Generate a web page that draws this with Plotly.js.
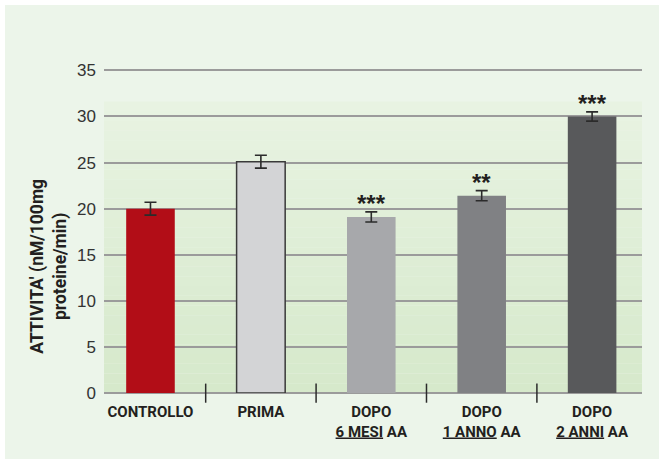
<!DOCTYPE html>
<html>
<head>
<meta charset="utf-8">
<script src="https://cdn.plot.ly/plotly-3.0.1.min.js"></script>
<style>
  html, body { margin: 0; padding: 0; background: #ffffff; }
  #chart { position: absolute; left: 5px; top: 5px; width: 654px; height: 454px; }
</style>
</head>
<body>
<div id="chart"></div>
<script>
// ---- data ----
const categories = ['CONTROLLO', 'PRIMA', 'DOPO<br><u>6 MESI</u> AA', 'DOPO<br><u>1 ANNO</u> AA', 'DOPO<br><u>2 ANNI</u> AA'];
const values = [20.0, 25.1, 19.1, 21.4, 30.0];
const errors = [0.7, 0.7, 0.55, 0.55, 0.5];
const significance = ['', '', '***', '**', '***'];
const barColors = ['#b20d17', '#d3d4d6', '#a7a8ab', '#808184', '#58595b'];
const yTicks = [0, 5, 10, 15, 20, 25, 30, 35];
const yTitle = "ATTIVITA' (nM/100mg<br>proteine/min)";

const idx = categories.map((c, i) => i);

const trace = {
  type: 'bar',
  x: idx,
  y: values,
  width: 0.44,
  marker: {
    color: barColors,
    line: { color: categories.map((c, i) => i === 1 ? '#3a3a3a' : 'rgba(0,0,0,0)'), width: categories.map((c, i) => i === 1 ? 1.5 : 0) }
  },
  error_y: { type: 'data', array: errors, visible: true, color: '#2b2b2b', thickness: 1.6, width: 6 },
  hoverinfo: 'none'
};

// gradient background bands in plot area
const shapes = [];
const nBands = 30;
const bandTop = 0.9;
const c0 = [214, 233, 203], c1 = [232, 243, 226];
for (let k = 0; k < nBands; k++) {
  const t = k / (nBands - 1);
  const col = c0.map((v, j) => Math.round(v + (c1[j] - v) * t));
  shapes.push({
    type: 'rect', layer: 'below', xref: 'paper', yref: 'paper',
    x0: 0, x1: 1, y0: bandTop * k / nBands, y1: bandTop * (k + 1) / nBands,
    fillcolor: `rgb(${col.join(',')})`, line: { width: 0 }
  });
}
// category dividers
for (let i = 0; i < categories.length - 1; i++) {
  shapes.push({
    type: 'line', xref: 'x', yref: 'paper', x0: i + 0.5, x1: i + 0.5, y0: -0.03, y1: 0.029,
    line: { color: '#2b2b2b', width: 1.5 }
  });
}

const labelFont = { family: 'Roboto, "Liberation Sans", Arial, sans-serif', size: 15, color: '#231f20', weight: 'bold' };

const annotations = significance.map((s, i) => ({
  x: i, y: values[i] + errors[i], xref: 'x', yref: 'y',
  text: s, showarrow: false, yanchor: 'bottom', yshift: -7,
  font: { family: '"Liberation Sans", Arial, sans-serif', size: 24, color: '#231f20', weight: 'bold' }
})).filter(a => a.text);

annotations.push({
  xref: 'paper', yref: 'paper', x: -0.102, y: 0.39,
  text: yTitle, textangle: -90, showarrow: false,
  xanchor: 'center', yanchor: 'middle',
  font: { family: 'Roboto, "Liberation Sans", Arial, sans-serif', size: 17.5, color: '#231f20', weight: 'bold' }
});

const layout = {
  width: 654, height: 454,
  margin: { l: 99, r: 17, t: 64, b: 66 },
  paper_bgcolor: '#ecf5ea',
  plot_bgcolor: 'rgba(0,0,0,0)',
  showlegend: false,
  bargap: 0,
  xaxis: {
    range: [-0.421, 4.452],
    tickmode: 'array', tickvals: idx, ticktext: categories,
    ticks: '', showgrid: false, zeroline: false, showline: false,
    tickfont: labelFont, ticklabelstandoff: 8
  },
  yaxis: {
    range: [0, 35.15],
    tickmode: 'array', tickvals: yTicks,
    ticks: '', showgrid: true, gridcolor: '#9b9b9b', gridwidth: 2,
    zeroline: true, zerolinecolor: '#9b9b9b', zerolinewidth: 2,
    showline: false,
    tickfont: { family: '"Liberation Sans", Arial, sans-serif', size: 17, color: '#333333' },
    ticklabelstandoff: 7
  },
  shapes: shapes,
  annotations: annotations
};

Plotly.newPlot('chart', [trace], layout, { displayModeBar: false, staticPlot: true });
</script>
</body>
</html>
